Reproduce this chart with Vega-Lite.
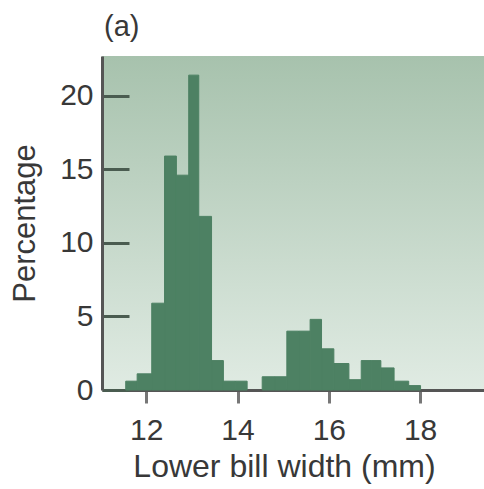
{
  "$schema": "https://vega.github.io/schema/vega-lite/v6.json",
  "width": 382,
  "height": 334,
  "autosize": {"type": "none"},
  "padding": {"left": 102, "top": 56, "right": 0, "bottom": 99},
  "background": "white",
  "title": {"text": "(a)", "anchor": "start", "frame": "group", "font": "Liberation Sans", "fontSize": 29, "fontWeight": "normal", "color": "#383838", "offset": 14, "dx": 2},
  "view": {"fill": {"gradient": "linear", "x1": 0, "y1": 0, "x2": 0, "y2": 1, "stops": [{"offset": 0, "color": "#a7c2ad"}, {"offset": 1, "color": "#e0ebe3"}]}, "stroke": null},
  "data": {"values": [
    {"start": 11.55, "end": 11.80, "pct": 0.6},
    {"start": 11.80, "end": 12.12, "pct": 1.1},
    {"start": 12.12, "end": 12.40, "pct": 5.9},
    {"start": 12.40, "end": 12.66, "pct": 15.9},
    {"start": 12.66, "end": 12.93, "pct": 14.6},
    {"start": 12.93, "end": 13.15, "pct": 21.4},
    {"start": 13.15, "end": 13.43, "pct": 11.8},
    {"start": 13.43, "end": 13.69, "pct": 2.0},
    {"start": 13.69, "end": 13.95, "pct": 0.6},
    {"start": 13.95, "end": 14.21, "pct": 0.6},
    {"start": 14.54, "end": 14.81, "pct": 0.9},
    {"start": 14.81, "end": 15.08, "pct": 0.9},
    {"start": 15.08, "end": 15.34, "pct": 4.0},
    {"start": 15.34, "end": 15.59, "pct": 4.0},
    {"start": 15.59, "end": 15.84, "pct": 4.8},
    {"start": 15.84, "end": 16.11, "pct": 2.8},
    {"start": 16.11, "end": 16.44, "pct": 1.8},
    {"start": 16.44, "end": 16.71, "pct": 0.7},
    {"start": 16.71, "end": 16.93, "pct": 2.0},
    {"start": 16.93, "end": 17.14, "pct": 2.0},
    {"start": 17.14, "end": 17.43, "pct": 1.5},
    {"start": 17.43, "end": 17.75, "pct": 0.6},
    {"start": 17.75, "end": 18.01, "pct": 0.3}
  ]},
  "mark": {"type": "rect", "color": "#4d8163", "stroke": "#4d8163", "strokeWidth": 1},
  "encoding": {
    "x": {
      "field": "start", "type": "quantitative",
      "scale": {"domain": [11.03, 19.4], "nice": false, "zero": false},
      "axis": {
        "values": [12, 14, 16, 18], "grid": false,
        "domainColor": "#555555", "domainWidth": 3,
        "tickColor": "#777777", "tickWidth": 3, "tickSize": 13,
        "labelFont": "Liberation Sans", "labelFontSize": 30, "labelColor": "#383838", "labelPadding": 12,
        "title": "Lower bill width (mm)", "titleFont": "Liberation Sans", "titleFontSize": 32, "titleFontWeight": "normal", "titleColor": "#383838", "titlePadding": 6, "titleX": 182
      }
    },
    "x2": {"field": "end"},
    "y": {
      "field": "pct", "type": "quantitative",
      "scale": {"domain": [0, 22.7], "nice": false},
      "axis": {
        "values": [0, 5, 10, 15, 20], "grid": false,
        "domainColor": "#555555", "domainWidth": 3,
        "tickColor": "#4a5c50", "tickWidth": 3, "tickSize": -27,
        "labelFont": "Liberation Sans", "labelFontSize": 30, "labelColor": "#383838", "labelPadding": 36,
        "title": "Percentage", "titleFont": "Liberation Sans", "titleFontSize": 31, "titleFontWeight": "normal", "titleColor": "#383838", "titlePadding": 18
      }
    },
    "y2": {"datum": 0}
  }
}
